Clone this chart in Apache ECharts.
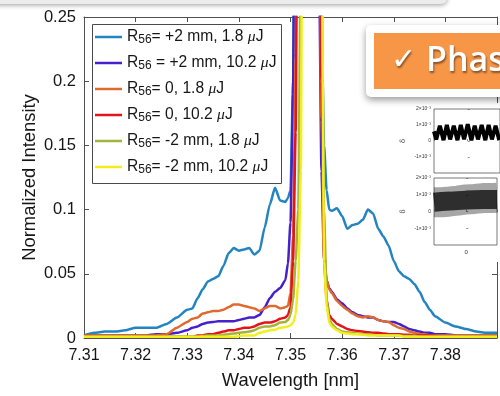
<!DOCTYPE html>
<html>
<head>
<meta charset="utf-8">
<script src="https://cdn.jsdelivr.net/npm/echarts@6/dist/echarts.min.js"></script>
<style>
  html, body { margin: 0; padding: 0; background: #fff; overflow: hidden; }
  #chart { width: 500px; height: 396px; }
</style>
</head>
<body>
<div id="chart"></div>
<script>
// Sampling grid of the spectra (nm); finer steps around the central line
const wavelength = [
  7.310, 7.312, 7.314, 7.316, 7.318, 7.320, 7.322, 7.324, 7.326, 7.328,
  7.330, 7.331, 7.332, 7.333, 7.334, 7.335, 7.336, 7.337, 7.338, 7.339,
  7.340, 7.341, 7.342, 7.343, 7.344, 7.345, 7.346, 7.347, 7.348, 7.349,
  7.3495, 7.350, 7.3505, 7.351, 7.3515, 7.352, 7.3525, 7.353, 7.3535, 7.354,
  7.3545, 7.355, 7.3555, 7.356, 7.3565, 7.357, 7.3575, 7.358, 7.359, 7.360,
  7.361, 7.362, 7.363, 7.364, 7.365, 7.366, 7.367, 7.368, 7.369, 7.370,
  7.371, 7.372, 7.373, 7.374, 7.375, 7.376, 7.377, 7.378, 7.380, 7.382,
  7.384, 7.386, 7.388, 7.390
];

// R56 = +2 mm, 1.8 uJ
const plus2Low = [
  0.002, 0.004, 0.005, 0.005, 0.006, 0.008, 0.008, 0.008, 0.011, 0.016,
  0.022, 0.023, 0.031, 0.038, 0.044, 0.046, 0.048, 0.056, 0.066, 0.070,
  0.068, 0.069, 0.070, 0.065, 0.068, 0.086, 0.104, 0.117, 0.107, 0.106,
  0.109, 0.115, 0.20, 0.50, 0.80, 0.95, 1.00, 1.00, 0.95, 0.85,
  0.70, 0.55, 0.40, 0.25, 0.15, 0.115, 0.100, 0.099, 0.101, 0.095,
  0.085, 0.088, 0.089, 0.092, 0.100, 0.097, 0.085, 0.079, 0.072, 0.060,
  0.052, 0.048, 0.046, 0.042, 0.036, 0.028, 0.022, 0.017, 0.012, 0.009,
  0.007, 0.005, 0.004, 0.004
];

// R56 = +2 mm, 10.2 uJ
const plus2High = [
  0.002, 0.002, 0.002, 0.002, 0.002, 0.002, 0.002, 0.003, 0.003, 0.004,
  0.006, 0.008, 0.009, 0.011, 0.012, 0.0125, 0.013, 0.013, 0.013, 0.013,
  0.014, 0.015, 0.016, 0.016, 0.018, 0.024, 0.031, 0.036, 0.039, 0.045,
  0.058, 0.090, 0.19, 0.50, 0.80, 0.95, 1.00, 1.00, 0.95, 0.85,
  0.70, 0.50, 0.30, 0.13, 0.060, 0.045, 0.039, 0.036, 0.030, 0.027,
  0.023, 0.020, 0.018, 0.017, 0.016, 0.016, 0.014, 0.013, 0.0125, 0.0125,
  0.011, 0.009, 0.007, 0.006, 0.005, 0.004, 0.004, 0.003, 0.003, 0.002,
  0.002, 0.002, 0.002, 0.002
];

// R56 = 0, 1.8 uJ
const zeroLow = [
  0.002, 0.002, 0.002, 0.002, 0.002, 0.002, 0.002, 0.002, 0.003, 0.008,
  0.0125, 0.015, 0.016, 0.019, 0.020, 0.021, 0.021, 0.022, 0.024, 0.026,
  0.026, 0.025, 0.024, 0.023, 0.021, 0.023, 0.025, 0.025, 0.023, 0.024,
  0.025, 0.035, 0.08, 0.22, 0.55, 0.85, 1.00, 1.00, 0.95, 0.85,
  0.70, 0.55, 0.35, 0.17, 0.070, 0.045, 0.038, 0.035, 0.029, 0.025,
  0.022, 0.019, 0.017, 0.016, 0.017, 0.016, 0.014, 0.013, 0.0125, 0.010,
  0.008, 0.007, 0.005, 0.004, 0.003, 0.003, 0.002, 0.002, 0.002, 0.002,
  0.002, 0.002, 0.002, 0.002
];

// R56 = 0, 10.2 uJ
const zeroHigh = [
  0.001, 0.001, 0.001, 0.001, 0.001, 0.001, 0.001, 0.001, 0.001, 0.001,
  0.001, 0.001, 0.002, 0.002, 0.003, 0.003, 0.004, 0.005, 0.006, 0.006,
  0.007, 0.008, 0.008, 0.009, 0.011, 0.012, 0.012, 0.013, 0.015, 0.016,
  0.018, 0.024, 0.06, 0.16, 0.50, 0.85, 1.00, 1.00, 0.95, 0.85,
  0.70, 0.55, 0.35, 0.20, 0.060, 0.030, 0.018, 0.015, 0.011, 0.009,
  0.007, 0.006, 0.0055, 0.005, 0.0045, 0.004, 0.004, 0.0035, 0.003, 0.003,
  0.003, 0.0025, 0.0025, 0.002, 0.002, 0.002, 0.002, 0.0015, 0.001, 0.001,
  0.001, 0.001, 0.001, 0.001
];

// R56 = -2 mm, 1.8 uJ
const minus2Low = [
  0.001, 0.001, 0.001, 0.001, 0.001, 0.001, 0.001, 0.001, 0.001, 0.001,
  0.001, 0.001, 0.001, 0.0015, 0.002, 0.002, 0.002, 0.0025, 0.003, 0.0035,
  0.004, 0.0045, 0.005, 0.006, 0.008, 0.009, 0.009, 0.010, 0.012, 0.0125,
  0.014, 0.018, 0.030, 0.060, 0.10, 0.30, 0.75, 0.95, 1.00, 1.00,
  0.90, 0.70, 0.50, 0.30, 0.10, 0.030, 0.015, 0.011, 0.007, 0.005,
  0.0045, 0.004, 0.0035, 0.003, 0.003, 0.0025, 0.002, 0.002, 0.002, 0.002,
  0.002, 0.0015, 0.0015, 0.0015, 0.001, 0.001, 0.001, 0.001, 0.001, 0.001,
  0.001, 0.001, 0.001, 0.001
];

// R56 = -2 mm, 10.2 uJ
const minus2High = [
  0.001, 0.001, 0.001, 0.001, 0.001, 0.001, 0.001, 0.001, 0.001, 0.001,
  0.001, 0.001, 0.001, 0.001, 0.001, 0.001, 0.001, 0.001, 0.001, 0.001,
  0.0015, 0.002, 0.002, 0.002, 0.004, 0.005, 0.006, 0.0065, 0.008, 0.0085,
  0.009, 0.010, 0.012, 0.018, 0.045, 0.13, 0.60, 0.90, 1.00, 1.00,
  0.90, 0.75, 0.55, 0.35, 0.060, 0.025, 0.012, 0.009, 0.006, 0.004,
  0.0035, 0.003, 0.003, 0.0025, 0.002, 0.002, 0.002, 0.002, 0.002, 0.002,
  0.002, 0.001, 0.001, 0.001, 0.001, 0.001, 0.001, 0.001, 0.001, 0.001,
  0.001, 0.001, 0.001, 0.001
];

// Legend text after the "R56" symbol
const legendRest = ['= +2 mm, 1.8 ', ' = +2 mm, 10.2 ', '= 0, 1.8 ', '= 0, 10.2 ', '= -2 mm, 1.8 ', '= -2 mm, 10.2 '];
const seriesNames = legendRest.map(r => 'R56' + r + 'μJ');
const seriesColors = ['#2384C0', '#4520CC', '#DE6A2E', '#E5121C', '#A3B43C', '#F2EE1E'];
const seriesValues = [plus2Low, plus2High, zeroLow, zeroHigh, minus2Low, minus2High];

// Axis ticks
const xTicks = { min: 7.31, max: 7.39, step: 0.01 };
const yTicks = { min: 0, max: 0.25, step: 0.05 };

// Small phase-space panels (delta in units of 1e-3)
const panelX = { min: -46, max: 44, step: 46 };
const deltaTicks = { min: -2, max: 2, step: 1 };
const upperTurnX = [-46, -43, -38, -33, -28.5, -24, -19, -14, -9.5, -5, 0, 5, 9.5, 14, 19, 24, 28.5, 33, 38, 43];
const upperDelta = [0.6, 0.1, 0.95, 0.05, 1.0, 0.1, 0.95, 0.05, 1.0, 0.1, 1.05, 0.05, 0.95, 0.1, 1.0, 0.05, 1.0, 0.1, 0.95, 0.05];
const lowerX = [-46, -35, -23, -12, 0, 12, 24, 36, 44];
const lowerOuterMid = [0.55, 0.55, 0.6, 0.65, 0.72, 0.75, 0.8, 0.8, 0.82];
const lowerInnerMid = [0.55, 0.6, 0.62, 0.65, 0.68, 0.7, 0.72, 0.72, 0.72];

const FONT = 'Liberation Sans, Arial, Helvetica, sans-serif';
const AXIS_COLOR = '#505050';
const TEXT_COLOR = '#161616';

const chart = echarts.init(document.getElementById('chart'), null, { renderer: 'canvas' });

const mainSeries = seriesValues.map((vals, k) => ({
  name: seriesNames[k],
  type: 'line',
  xAxisIndex: 0,
  yAxisIndex: 0,
  data: wavelength.map((w, i) => [w, vals[i]]),
  symbol: 'none',
  smooth: 0.2,
  smoothMonotone: 'x',
  clip: true,
  lineStyle: { color: seriesColors[k], width: 2.5 },
  itemStyle: { color: seriesColors[k] },
  z: 2
}));

const deltaLabel = v => (v === 0 ? '0' : (v < 0 ? '-' + Math.abs(v) : v) + '×10⁻³');

function panelYAxis(gridIndex) {
  return {
    type: 'value', gridIndex, min: deltaTicks.min, max: deltaTicks.max, interval: deltaTicks.step,
    axisLine: { show: false },
    axisTick: { show: true, inside: true, length: 2, lineStyle: { color: '#444', width: 0.6 } },
    axisLabel: { fontSize: 5, color: '#333', margin: 3, formatter: deltaLabel, showMinLabel: false, fontFamily: FONT },
    splitLine: { show: false },
    name: 'δ', nameLocation: 'middle', nameRotate: 90, nameGap: 27,
    nameTextStyle: { fontSize: 7, color: '#333', fontFamily: 'DejaVu Serif' },
    z: 5
  };
}
function panelXAxis(gridIndex, showZero) {
  return {
    type: 'value', gridIndex, min: panelX.min, max: panelX.max, interval: panelX.step,
    axisLine: { show: false },
    axisTick: { show: true, inside: true, length: 2, lineStyle: { color: '#444', width: 0.6 } },
    axisLabel: { show: showZero, fontSize: 6, color: '#333', margin: 4, formatter: v => (v === 0 ? '0' : ''), fontFamily: FONT },
    splitLine: { show: false },
    z: 5
  };
}

const option = {
  animation: false,
  backgroundColor: '#ffffff',
  textStyle: { fontFamily: FONT },
  grid: [
    { left: 84, right: 3, top: 17, bottom: 58, containLabel: false },
    { left: 434, top: 109, width: 90, height: 64, show: true, backgroundColor: 'transparent', borderColor: '#555', borderWidth: 0.8, z: 4 },
    { left: 434, top: 178, width: 90, height: 67, show: true, backgroundColor: 'transparent', borderColor: '#555', borderWidth: 0.8, z: 4 }
  ],
  xAxis: [
    {
      type: 'value', gridIndex: 0, position: 'bottom',
      min: xTicks.min, max: xTicks.max, interval: xTicks.step,
      axisLine: { show: true, onZero: false, lineStyle: { color: AXIS_COLOR, width: 1 } },
      axisTick: { show: true, inside: true, length: 5, lineStyle: { color: AXIS_COLOR } },
      axisLabel: { color: TEXT_COLOR, fontSize: 16, margin: 10, formatter: v => v.toFixed(2), showMaxLabel: false, fontFamily: FONT },
      splitLine: { show: false },
      name: 'Wavelength [nm]', nameLocation: 'middle', nameGap: 34,
      nameTextStyle: { color: TEXT_COLOR, fontSize: 18.4, fontFamily: FONT }
    },
    {
      type: 'value', gridIndex: 0, position: 'top',
      min: xTicks.min, max: xTicks.max, interval: xTicks.step,
      axisLine: { show: true, onZero: false, lineStyle: { color: AXIS_COLOR, width: 1 } },
      axisTick: { show: true, inside: true, length: 5, lineStyle: { color: AXIS_COLOR } },
      axisLabel: { show: false },
      splitLine: { show: false }
    },
    panelXAxis(1, false),
    panelXAxis(2, true)
  ],
  yAxis: [
    {
      type: 'value', gridIndex: 0, position: 'left',
      min: yTicks.min, max: yTicks.max, interval: yTicks.step,
      axisLine: { show: true, onZero: false, lineStyle: { color: AXIS_COLOR, width: 1 } },
      axisTick: { show: true, inside: true, length: 5, lineStyle: { color: AXIS_COLOR } },
      axisLabel: { color: TEXT_COLOR, fontSize: 16.5, margin: 8, fontFamily: FONT },
      splitLine: { show: false },
      name: 'Normalized Intensity', nameLocation: 'middle', nameRotate: 90, nameGap: 45,
      nameMoveOverlap: false,
      nameTextStyle: { color: TEXT_COLOR, fontSize: 18.4, fontFamily: FONT }
    },
    {
      type: 'value', gridIndex: 0, position: 'right',
      min: yTicks.min, max: yTicks.max, interval: yTicks.step,
      axisLine: { show: true, onZero: false, lineStyle: { color: AXIS_COLOR, width: 1 } },
      axisTick: { show: true, inside: true, length: 5, lineStyle: { color: AXIS_COLOR } },
      axisLabel: { show: false },
      splitLine: { show: false }
    },
    panelYAxis(1),
    panelYAxis(2)
  ],
  legend: {
    data: seriesNames,
    orient: 'vertical',
    left: 95,
    top: 18,
    padding: 0,
    itemGap: -2,
    itemWidth: 27,
    itemHeight: 2.5,
    icon: 'rect',
    selectedMode: false,
    formatter: name => {
      const i = seriesNames.indexOf(name);
      return '{r|R}{s|56}{t|' + legendRest[i] + '}{m|μ}{t|J}';
    },
    textStyle: {
      rich: {
        r: { fontSize: 15.6, fontFamily: FONT, color: TEXT_COLOR, lineHeight: 18, verticalAlign: 'middle' },
        t: { fontSize: 15.6, fontFamily: FONT, color: TEXT_COLOR, lineHeight: 18, verticalAlign: 'middle' },
        m: { fontSize: 15.6, fontFamily: 'Liberation Serif, DejaVu Serif, serif', fontStyle: 'italic', color: TEXT_COLOR, lineHeight: 18, verticalAlign: 'middle' },
        s: { fontSize: 12, fontFamily: FONT, color: TEXT_COLOR, lineHeight: 12, padding: [16, 0, 0, 0], verticalAlign: 'bottom' }
      }
    },
    z: 4
  },
  graphic: [
    // legend frame
    { type: 'rect', shape: { x: 92.5, y: 24.5, width: 189, height: 159 }, style: { fill: '#fff', stroke: '#4a4a4a', lineWidth: 1 }, z: 1 },
    // white backing of the phase-space panels
    { type: 'rect', shape: { x: 400, y: 103, width: 110, height: 159 }, style: { fill: '#fff' }, z: 3 },
    // edge of the panel above the plot
    { type: 'rect', shape: { x: -20, y: -40, width: 467, height: 44, r: 6 }, style: { fill: '#ececec', shadowBlur: 5, shadowColor: 'rgba(0,0,0,0.4)', shadowOffsetY: 1 }, z: 10 },
    // call-out button
    { type: 'rect', shape: { x: 366, y: 25, width: 160, height: 72, r: 5 }, style: { fill: '#fff', shadowBlur: 7, shadowColor: 'rgba(0,0,0,0.4)', shadowOffsetY: 3 }, z: 10 },
    { type: 'rect', shape: { x: 374, y: 33, width: 150, height: 56 }, style: { fill: '#F79646' }, z: 11 },
    { type: 'text', x: 391, y: 61, style: { text: '✓', fontSize: 30, fontFamily: 'DejaVu Sans', fill: '#fff', textVerticalAlign: 'middle', textShadowColor: 'rgba(0,0,0,0.45)', textShadowBlur: 2, textShadowOffsetX: 1, textShadowOffsetY: 2 }, z: 12 },
    { type: 'text', x: 426, y: 61, style: { text: 'Phase', fontSize: 34, fontWeight: 600, fontFamily: 'Open Sans', fill: '#fff', textVerticalAlign: 'middle', textShadowColor: 'rgba(0,0,0,0.45)', textShadowBlur: 2, textShadowOffsetX: 1, textShadowOffsetY: 2 }, z: 12 }
  ],
  series: mainSeries.concat([
    {
      type: 'line', xAxisIndex: 2, yAxisIndex: 2,
      data: upperTurnX.map((x, i) => [x, upperDelta[i]]),
      symbol: 'none', lineStyle: { color: '#000', width: 4 }, z: 6
    },
    {
      type: 'line', xAxisIndex: 3, yAxisIndex: 3,
      data: lowerX.map((x, i) => [x, lowerOuterMid[i]]),
      symbol: 'none', lineStyle: { color: 'rgba(0,0,0,0.35)', width: 30, cap: 'butt' }, z: 6
    },
    {
      type: 'line', xAxisIndex: 3, yAxisIndex: 3,
      data: lowerX.map((x, i) => [x, lowerInnerMid[i]]),
      symbol: 'none', lineStyle: { color: 'rgba(0,0,0,0.72)', width: 19, cap: 'butt' }, z: 7
    }
  ])
};

chart.setOption(option);
</script>
</body>
</html>
